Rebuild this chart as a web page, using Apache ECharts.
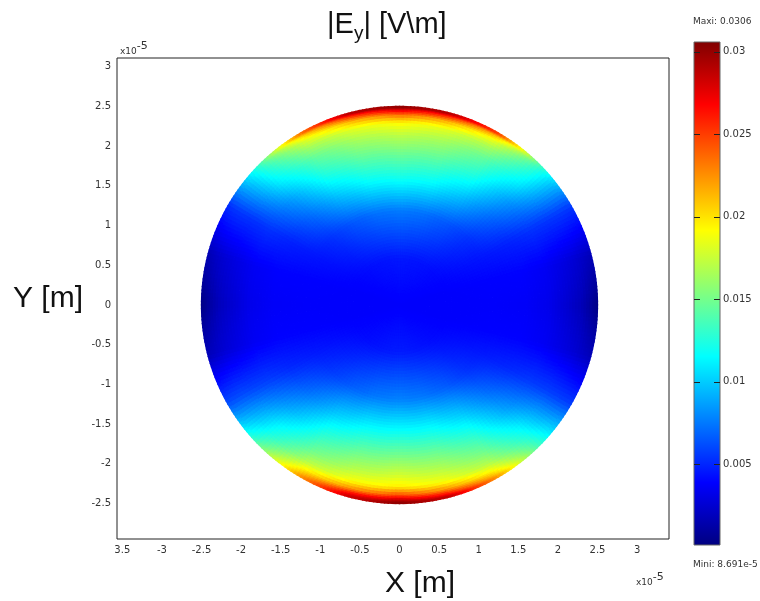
<!DOCTYPE html>
<html><head><meta charset="utf-8">
<style>html,body{margin:0;padding:0;background:#fff}#c{width:760px;height:601px}</style>
<script src="https://cdn.jsdelivr.net/npm/echarts@6/dist/echarts.min.js"></script>
</head><body><div id="c"></div>
<script>
// Field samples, in units of 1e-4 V/m.
const angles = [0,15,30,45,60,75,90,105,120,135,150,165,180,195,210,225,240,255,270,285,300,315,330,345];
const radii = [0,0.6,1.2,1.6,1.9,2.15,2.3,2.4,2.46,2.5];
const r000 = [38,38,38,38,38,38,38,38,38,38,38,38,38,38,38,38,38,38,38,38,38,38,38,38];
const r060 = [38,38,40,42,44,45,46,45,44,42,40,38,38,38,40,42,44,46,47,46,44,42,40,38];
const r120 = [38,39,45,54,65,73,76,73,65,54,45,39,38,39,46,56,67,75,78,75,67,55,46,39];
const r160 = [37,39,49,72,98,115,120,115,98,72,49,39,37,39,51,74,100,115,118,115,100,74,51,39];
const r190 = [33,36,54,88,125,142,147,142,125,88,54,36,33,36,57,92,128,145,150,145,128,90,56,36];
const r215 = [24,30,55,108,145,165,172,165,145,108,54,30,24,30,60,112,150,170,178,170,150,110,58,30];
const r230 = [18,26,56,118,165,183,193,183,165,118,55,26,18,26,62,122,170,190,197,188,168,120,58,26];
const r240 = [11,22,56,125,185,215,235,215,183,125,55,22,11,22,62,132,195,225,245,222,190,128,58,22];
const r246 = [6,20,56,130,210,255,275,255,205,130,54,19,6,20,62,138,212,268,285,262,208,132,58,20];
const r250 = [3,18,56,137,255,295,305,295,240,135,52,17,3,18,62,145,225,285,305,290,225,135,58,18];
const fieldRows = [r000,r060,r120,r160,r190,r215,r230,r240,r246,r250];
const xTicks = [-3.5,-3,-2.5,-2,-1.5,-1,-0.5,0,0.5,1,1.5,2,2.5,3];
const yTicks = [3,2.5,2,1.5,1,0.5,0,-0.5,-1,-1.5,-2,-2.5];
const barTicks = [0.005,0.01,0.015,0.02,0.025,0.03];
const fieldMin = 8.691e-5, fieldMax = 0.0306;
const jet = ['#000080','#0000ff','#0080ff','#00ffff','#80ff80','#ffff00','#ff8000','#ff0000','#800000'];

const colorOf = v => echarts.color.lerp(Math.max(0,Math.min(1,(v-fieldMin)/(fieldMax-fieldMin))), jet);
const cells = [];
radii.slice(0,-1).forEach((r,i)=>angles.forEach((a,j)=>cells.push([r*Math.cos(a*Math.PI/180),r*Math.sin(a*Math.PI/180),i,j])));
const tickFont = {fontFamily:'DejaVu Sans',fontSize:10,color:'#333'};

function renderCell(params, api){
  const i = api.value(2), j = api.value(3), j2 = (j+1)%angles.length;
  const r0 = radii[i], r1 = radii[i+1], a0 = angles[j]*Math.PI/180, a1 = a0+15*Math.PI/180;
  const v00 = fieldRows[i][j]*1e-4, v01 = fieldRows[i][j2]*1e-4, v10 = fieldRows[i+1][j]*1e-4, v11 = fieldRows[i+1][j2]*1e-4;
  const nr = Math.max(3,Math.ceil((r1-r0)/0.04)), na = Math.max(3,Math.ceil(r1*15*Math.PI/180/0.05));
  const children = [];
  const P = (s,t)=>{const r=r0+(r1-r0)*s,a=a0+(a1-a0)*t;return api.coord([r*Math.cos(a),r*Math.sin(a)]);};
  for(let s=0;s<nr;s++)for(let t=0;t<na;t++){
    const u=(s+.5)/nr,w=(t+.5)/na;
    const v=(v00*(1-w)+v01*w)*(1-u)+(v10*(1-w)+v11*w)*u;
    const c=colorOf(v);
    children.push({type:'polygon',shape:{points:[P(s/nr,t/na),P((s+1)/nr,t/na),P((s+1)/nr,(t+1)/na),P(s/nr,(t+1)/na)]},
      style:{fill:c,stroke:c,lineWidth:1.3},silent:true});
  }
  return {type:'group',children};
}
function renderBar(params, api){
  const a = api.coord([0,fieldMax]), b = api.coord([1,fieldMin]);
  const children = [{type:'rect',shape:{x:a[0],y:a[1],width:b[0]-a[0],height:b[1]-a[1]},
    style:{stroke:'#666',lineWidth:1,fill:new echarts.graphic.LinearGradient(0,1,0,0,jet.map((c,i)=>({offset:i/(jet.length-1),color:c})))}}];
  barTicks.forEach(t=>{
    const y = Math.round(api.coord([0,t])[1])+0.5;
    children.push({type:'line',shape:{x1:a[0],y1:y,x2:a[0]+6,y2:y},style:{stroke:'#222',lineWidth:1}});
    children.push({type:'line',shape:{x1:b[0]-6,y1:y,x2:b[0],y2:y},style:{stroke:'#222',lineWidth:1}});
  });
  return {type:'group',children};
}
const chart = echarts.init(document.getElementById('c'),null,{renderer:'canvas'});
const sup = {fontFamily:'DejaVu Sans',fontSize:11,fontWeight:'normal',color:'#333',padding:[0,0,11,0]};
const tim = {fontFamily:'DejaVu Sans',fontSize:9,fontWeight:'normal',color:'#333'};
const big = {fontFamily:'Liberation Sans',fontSize:30,fontWeight:'normal',color:'#111'};
chart.setOption({
  animation:false,
  backgroundColor:'#fff',
  title:[
    {text:'{a||E}{s|y}{a|| [V\\m]}',left:327,top:7,padding:0,textStyle:{fontWeight:'normal',rich:{
       a:{fontFamily:'Liberation Sans',fontSize:29,fontWeight:'normal',color:'#111',lineHeight:36},
       s:{fontFamily:'Liberation Sans',fontSize:19,fontWeight:'normal',color:'#111',verticalAlign:'bottom',lineHeight:28,padding:[12,0,0,0]}}}},
    {text:'Y [m]',left:13,top:284,padding:0,textStyle:big},
    {text:'X [m]',left:385,top:569,padding:0,textStyle:big},
    {text:'{t|x10}{p|-5}',left:120,top:41,padding:0,textStyle:{fontWeight:'normal',rich:{t:tim,p:sup}}},
    {text:'{t|x10}{p|-5}',left:636,top:572,padding:0,textStyle:{fontWeight:'normal',rich:{t:tim,p:sup}}},
    {text:'Maxi: 0.0306',left:693,top:17,padding:0,textStyle:tim},
    {text:'Mini: 8.691e-5',left:693,top:560,padding:0,textStyle:tim}
  ],
  grid:[
    {left:117,top:58,width:552,height:481,show:true,backgroundColor:'#fff',borderColor:'#222',borderWidth:1},
    {left:694,top:42,width:26,height:503,show:false}
  ],
  xAxis:[
    {gridIndex:0,type:'value',min:-3.567,max:3.403,position:'bottom',axisLine:{show:false},axisTick:{show:false},splitLine:{show:false},
     axisLabel:{...tickFont,margin:6,customValues:xTicks,formatter:v=>v===-3.5?'3.5':String(v)}},
    {gridIndex:1,type:'value',min:0,max:1,show:false}
  ],
  yAxis:[
    {gridIndex:0,type:'value',min:-2.947,max:3.11,axisLine:{show:false},axisTick:{show:false},splitLine:{show:false},
     axisLabel:{...tickFont,margin:6,customValues:yTicks,formatter:v=>String(v)}},
    {gridIndex:1,type:'value',min:fieldMin,max:fieldMax,position:'right',axisLine:{show:false},axisTick:{show:false},splitLine:{show:false},
     axisLabel:{...tickFont,margin:3,customValues:barTicks,formatter:v=>String(v)}}
  ],
  series:[
    {type:'custom',xAxisIndex:0,yAxisIndex:0,data:cells,renderItem:renderCell,encode:{x:0,y:1},silent:true,clip:false,progressive:0,z:2},
    {type:'custom',xAxisIndex:1,yAxisIndex:1,data:[[0,fieldMin]],renderItem:renderBar,encode:{x:0,y:1},silent:true,clip:false,z:1}
  ]
});
</script></body></html>
